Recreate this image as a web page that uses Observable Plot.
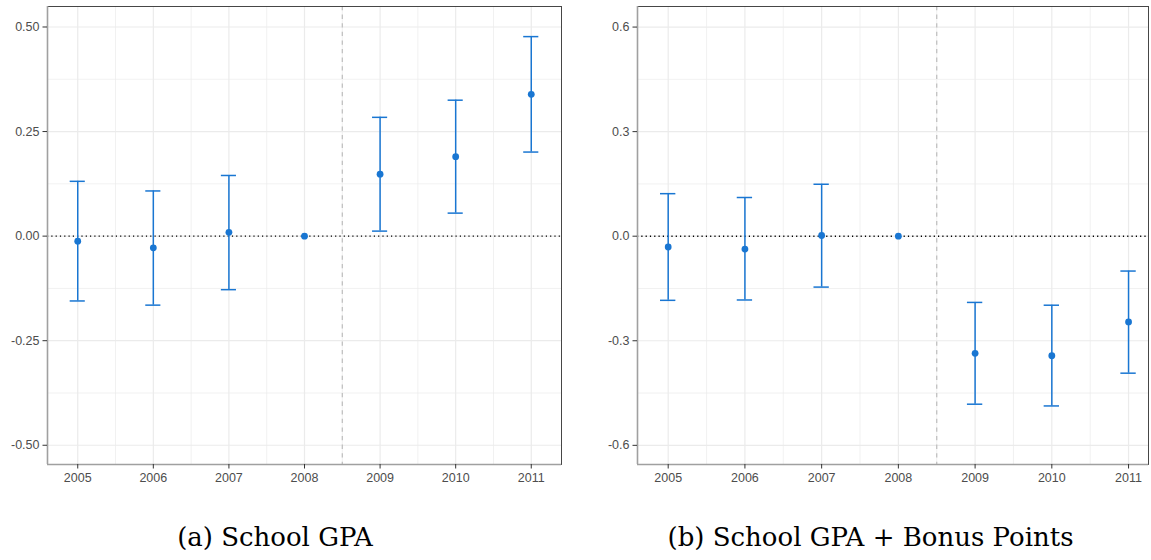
<!DOCTYPE html>
<html><head><meta charset="utf-8">
<script src="https://cdn.jsdelivr.net/npm/d3@7"></script>
<script src="https://cdn.jsdelivr.net/npm/@observablehq/plot@0.6"></script>
<style>
body{margin:0;background:#fff;}
#wrap{position:relative;width:1151px;height:560px;overflow:hidden;background:#fff;}
.panel{position:absolute;top:0;}
.cap{position:absolute;top:524px;font-family:"DejaVu Serif",serif;font-size:26px;line-height:26px;color:#000;white-space:nowrap;transform:translateX(-50%);}
#wrap g[aria-label$="tick label"]{fill:#4d4d4d;}
</style></head><body><div id="wrap"></div>
<script>
// Event-study years
const years = [2005, 2006, 2007, 2008, 2009, 2010, 2011];
const cutoffYear = 2008.5;
const minorYears = [2005.5, 2006.5, 2007.5, 2008.5, 2009.5, 2010.5];

// Panel (a): School GPA
const gpaEst = [-0.012, -0.028, 0.009, 0, 0.148, 0.190, 0.339];
const gpaLo  = [-0.155, -0.165, -0.128, null, 0.012, 0.055, 0.201];
const gpaHi  = [0.131, 0.108, 0.145, null, 0.284, 0.325, 0.477];
const gpaTicks = [-0.5, -0.25, 0, 0.25, 0.5];
const gpaMinor = [-0.375, -0.125, 0.125, 0.375];

// Panel (b): School GPA + Bonus Points
const bonusEst = [-0.031, -0.037, 0.002, 0, -0.336, -0.343, -0.246];
const bonusLo  = [-0.184, -0.183, -0.146, null, -0.482, -0.487, -0.393];
const bonusHi  = [0.122, 0.111, 0.149, null, -0.190, -0.198, -0.100];
const bonusTicks = [-0.6, -0.3, 0, 0.3, 0.6];
const bonusMinor = [-0.45, -0.15, 0.15, 0.45];

const captions = ["(a) School GPA", "(b) School GPA + Bonus Points"];

const blue = "#1976D2";
const grid = "#ebebeb";
const capHalf = 0.1;

function panel({est, lo, hi, yDomain, yTicks, yMinor, fmt, xDomain, width, marginLeft, marginRight}) {
  const data = years.map((year, i) => ({year, est: est[i], lo: lo[i], hi: hi[i]}));
  const bars = data.filter(d => d.lo != null);
  return Plot.plot({
    width, height: 494, marginTop: 6, marginBottom: 30, marginLeft, marginRight,
    style: {fontFamily: "'Liberation Sans', Arial, sans-serif", color: "#333", background: "#fff", overflow: "visible"},
    x: {domain: xDomain, label: null},
    y: {domain: yDomain, label: null},
    marks: [
      Plot.ruleX(minorYears, {stroke: grid, strokeWidth: 0.7}),
      Plot.ruleY(yMinor, {stroke: grid, strokeWidth: 0.7}),
      Plot.ruleX(years, {stroke: grid, strokeWidth: 1.2}),
      Plot.ruleY(yTicks, {stroke: grid, strokeWidth: 1.2}),
      Plot.ruleY([0], {stroke: "#000", strokeWidth: 1.4, strokeDasharray: "1.2,3.1"}),
      Plot.ruleX([cutoffYear], {stroke: "#bdbdbd", strokeWidth: 1.2, strokeDasharray: "4.3,4.3"}),
      Plot.ruleX(bars, {x: "year", y1: "lo", y2: "hi", stroke: blue, strokeWidth: 1.5}),
      Plot.ruleY(bars, {y: "lo", x1: d => d.year - capHalf, x2: d => d.year + capHalf, stroke: blue, strokeWidth: 1.5}),
      Plot.ruleY(bars, {y: "hi", x1: d => d.year - capHalf, x2: d => d.year + capHalf, stroke: blue, strokeWidth: 1.5}),
      Plot.dot(data, {x: "year", y: "est", r: 3.4, fill: blue}),
      Plot.frame({stroke: "#333", strokeWidth: 0.9}),
      Plot.ruleX([xDomain[0]], {stroke: "#a0a0a0", strokeWidth: 1.6}),
      Plot.ruleY([yDomain[0]], {stroke: "#a0a0a0", strokeWidth: 1.6}),
      Plot.axisX(years, {tickFormat: d => String(d), tickSize: 4.5, tickPadding: 4.5, fontSize: 12.5, label: null}),
      Plot.axisY(yTicks, {tickFormat: fmt, tickSize: 4.5, tickPadding: 3.5, fontSize: 12.5, label: null})
    ]
  });
}

const wrap = document.getElementById("wrap");

const left = panel({
  est: gpaEst, lo: gpaLo, hi: gpaHi,
  yDomain: [-0.546, 0.549], yTicks: gpaTicks, yMinor: gpaMinor,
  fmt: d => d.toFixed(2),
  xDomain: [2004.6, 2011.4], width: 575, marginLeft: 47, marginRight: 14
});
const ld = document.createElement("div");
ld.className = "panel"; ld.style.left = "0px"; ld.appendChild(left); wrap.appendChild(ld);

const right = panel({
  est: bonusEst, lo: bonusLo, hi: bonusHi,
  yDomain: [-0.655, 0.659], yTicks: bonusTicks, yMinor: bonusMinor,
  fmt: d => d.toFixed(1),
  xDomain: [2004.6, 2011.26], width: 576, marginLeft: 62, marginRight: 3
});
const rd = document.createElement("div");
rd.className = "panel"; rd.style.left = "575px"; rd.appendChild(right); wrap.appendChild(rd);

[[captions[0], 275], [captions[1], 870.5]].forEach(([t, cx]) => {
  const c = document.createElement("div");
  c.className = "cap"; c.style.left = cx + "px"; c.textContent = t;
  wrap.appendChild(c);
});
</script></body></html>
